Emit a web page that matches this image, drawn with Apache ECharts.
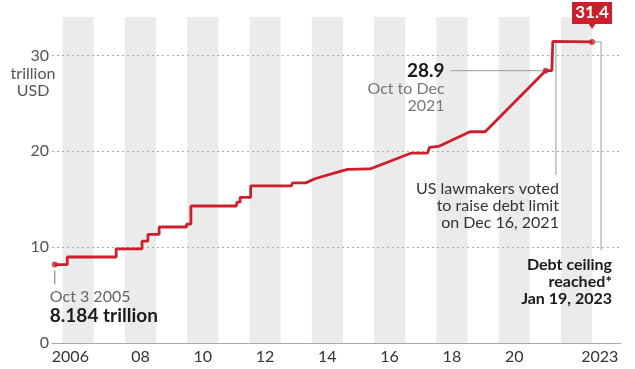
<!DOCTYPE html>
<html>
<head>
<meta charset="utf-8">
<script src="https://cdn.jsdelivr.net/npm/echarts@6/dist/echarts.min.js"></script>
<style>
html,body{margin:0;padding:0;background:#fff;}
#c{width:635px;height:369px;}
</style>
</head>
<body>
<div id="c"></div>
<script>
// Debt (trillion USD); vertical steps repeat the year
const years = [2005.75, 2006.15, 2006.15, 2007.72, 2007.72, 2008.55, 2008.55, 2008.74, 2008.74,
  2009.10, 2009.10, 2009.98, 2009.98, 2010.12, 2010.12, 2011.58, 2011.60, 2011.70, 2011.70,
  2012.04, 2012.04, 2013.35, 2013.38, 2013.81, 2014.10, 2014.91, 2015.15, 2015.87, 2017.20,
  2017.72, 2017.78, 2018.07, 2019.08, 2019.57, 2021.51, 2021.71, 2021.74, 2023.00];
const debt = [8.18, 8.18, 8.97, 8.97, 9.82, 9.82, 10.62, 10.62, 11.32,
  11.32, 12.10, 12.10, 12.39, 12.39, 14.29, 14.29, 14.69, 14.69, 15.19,
  15.19, 16.39, 16.39, 16.70, 16.70, 17.13, 17.90, 18.11, 18.15, 19.81,
  19.81, 20.40, 20.50, 22.03, 22.03, 28.40, 28.40, 31.45, 31.40];
// highlighted points
const dotYears = [2005.75, 2021.51, 2023.00];
const dotDebt = [8.184, 28.4, 31.4];
// shaded years
const bandStarts = [2006, 2008, 2010, 2012, 2014, 2016, 2018, 2020, 2022];
// axis labels
const xTickValues = [2006.25, 2008.5, 2010.5, 2012.5, 2014.5, 2016.5, 2018.5, 2020.5, 2023.25];
const xTickLabels = ['2006', '08', '10', '12', '14', '16', '18', '20', '2023'];
const yTickValues = [0, 10, 20, 30];

const FONT = 'Lato, "Source Sans Pro", "Noto Sans", sans-serif';
const RED = '#cc1f2b';
const chart = echarts.init(document.getElementById('c'), null, {renderer: 'canvas'});

const lineData = years.map((y, i) => [y, debt[i]]);
const dotData = dotYears.map((y, i) => [y, dotDebt[i]]);

chart.setOption({
  animation: false,
  textStyle: {fontFamily: FONT},
  grid: {left: 52, right: 14, top: 17, bottom: 26},
  xAxis: {
    type: 'value', min: 2005.66, max: 2023.93,
    axisLine: {show: true, lineStyle: {color: '#aaa', width: 1}},
    axisTick: {show: false},
    splitLine: {show: false},
    axisLabel: {
      customValues: xTickValues,
      formatter: v => { const i = xTickValues.findIndex(t => Math.abs(t - v) < 1e-6); return i >= 0 ? xTickLabels[i] : ''; },
      color: '#333', fontSize: 16, fontFamily: FONT, margin: 6
    }
  },
  yAxis: {
    type: 'value', min: 0, max: 34, interval: 10,
    axisLine: {show: false}, axisTick: {show: false}, splitLine: {show: false},
    axisLabel: {customValues: yTickValues, color: '#555', fontSize: 16, fontFamily: FONT, margin: 3}
  },
  series: [
    {
      type: 'line', data: lineData, showSymbol: false, silent: true,
      lineStyle: {color: RED, width: 2.8}, z: 5,
      markArea: {
        silent: true,
        itemStyle: {color: '#ebebeb'},
        data: bandStarts.map(s => [{xAxis: s}, {xAxis: s + 1}])
      },
      markLine: {
        silent: true, symbol: 'none', label: {show: false},
        lineStyle: {color: '#aaa', type: [2, 3], width: 1},
        data: yTickValues.filter(v => v > 0).map(v => ({yAxis: v}))
      }
    },
    {
      type: 'scatter', data: dotData, symbolSize: 6, silent: true,
      itemStyle: {color: RED}, z: 6
    }
  ]
});

function P(x, y) { return chart.convertToPixel({gridIndex: 0}, [x, y]); }
const g = [];
function txt(x, y, s, o) {
  g.push({type: 'text', x: x, y: y, z: 20, silent: true,
    style: Object.assign({text: s, font: '16px ' + FONT, fill: '#333', textAlign: 'left', textVerticalAlign: 'middle', lineHeight: 17}, o || {})});
}
function seg(pts, color) {
  g.push({type: 'polyline', z: 4, silent: true, shape: {points: pts}, style: {stroke: color || '#999', lineWidth: 1, fill: null}});
}

// y-axis unit
const p30 = P(2005.66, 30);
txt(p30[0] - 19, p30[1] + 18, 'trillion', {textAlign: 'center', fill: '#555'});
txt(p30[0] - 19, p30[1] + 35, 'USD', {textAlign: 'center', fill: '#555'});

// start point
const s0 = P(dotYears[0], dotDebt[0]);
seg([[s0[0], s0[1] + 6], [s0[0], s0[1] + 20]], '#777');
txt(s0[0] - 5, s0[1] + 32, 'Oct 3 2005', {fill: '#666'});
txt(s0[0] - 5, s0[1] + 51, '8.184 trillion', {font: 'bold 19px ' + FONT, fill: '#1a1a1a'});

// 28.9
const s1 = P(dotYears[1], dotDebt[1]);
seg([[s1[0] - 95, s1[1]], [s1[0] - 3, s1[1]]], '#999');
txt(s1[0] - 101, s1[1], '28.9', {font: 'bold 19px ' + FONT, fill: '#1a1a1a', textAlign: 'right'});
txt(s1[0] - 101, s1[1] + 18, 'Oct to Dec', {fill: '#777', textAlign: 'right'});
txt(s1[0] - 101, s1[1] + 35, '2021', {fill: '#777', textAlign: 'right'});

// lawmakers vote
const v1 = P(2021.84, 31.4), v2 = P(2021.84, 17.5);
seg([v1, v2], '#999');
txt(v1[0] + 3, v2[1] + 14, 'US lawmakers voted', {textAlign: 'right'});
txt(v1[0] + 3, v2[1] + 31, 'to raise debt limit', {textAlign: 'right'});
txt(v1[0] + 3, v2[1] + 48, 'on Dec 16, 2021', {textAlign: 'right'});

// debt ceiling reached
const s2 = P(dotYears[2], dotDebt[2]);
const d2 = P(2023.29, 9.7);
seg([[s2[0] + 3, s2[1]], [d2[0], s2[1]], [d2[0], d2[1]]], '#999');
txt(d2[0] + 11, d2[1] + 15, 'Debt ceiling', {font: 'bold 16px ' + FONT, fill: '#1a1a1a', textAlign: 'right'});
txt(d2[0] + 11, d2[1] + 32, 'reached*', {font: 'bold 16px ' + FONT, fill: '#1a1a1a', textAlign: 'right'});
txt(d2[0] + 11, d2[1] + 49, 'Jan 19, 2023', {font: 'bold 16px ' + FONT, fill: '#1a1a1a', textAlign: 'right'});

// 31.4 callout box
const bx = s2[0], by = s2[1];
g.push({type: 'rect', z: 19, silent: true, shape: {x: bx - 20, y: by - 40, width: 40, height: 22}, style: {fill: RED}});
g.push({type: 'polygon', z: 19, silent: true, shape: {points: [[bx - 4, by - 19], [bx + 4, by - 19], [bx, by - 13]]}, style: {fill: RED}});
txt(bx, by - 29, '31.4', {font: 'bold 17px ' + FONT, fill: '#fff', textAlign: 'center'});

chart.setOption({graphic: g});
</script>
</body>
</html>
